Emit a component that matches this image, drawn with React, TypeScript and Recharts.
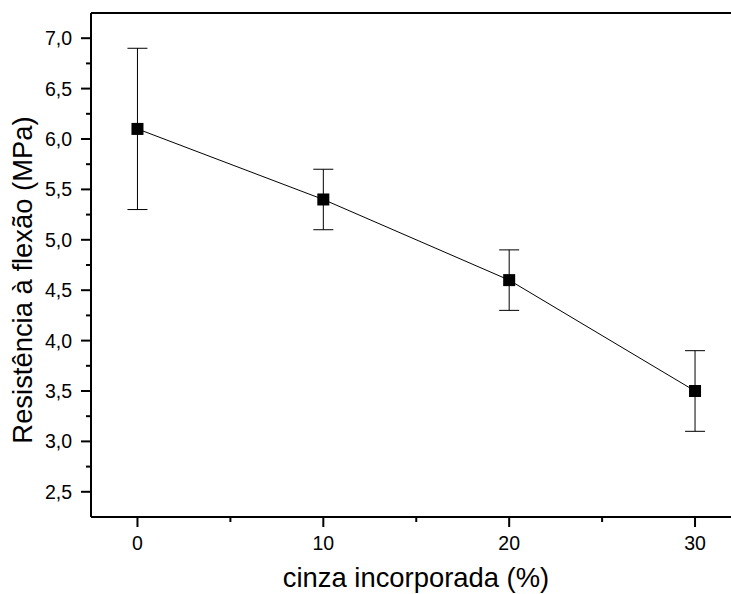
import React from "react";
import {
  LineChart,
  Line,
  XAxis,
  YAxis,
  ErrorBar,
  ReferenceLine,
  Label,
} from "recharts";

const cinza = [0, 10, 20, 30];
const resistencia = [6.1, 5.4, 4.6, 3.5];
const desvio = [0.8, 0.3, 0.3, 0.4];

const xTicks = [0, 5, 10, 15, 20, 25, 30];
const yTicks = [
  2.5, 2.75, 3.0, 3.25, 3.5, 3.75, 4.0, 4.25, 4.5, 4.75, 5.0, 5.25, 5.5, 5.75,
  6.0, 6.25, 6.5, 6.75, 7.0,
];

const FONT = "'Liberation Sans', Arial, sans-serif";

const data = cinza.map((c, i) => ({
  cinza: c,
  resistencia: resistencia[i],
  desvio: desvio[i],
}));

function XTick({ x, y, payload }: any) {
  const major = payload.value % 10 === 0;
  return (
    <g>
      <line x1={x} x2={x} y1={y} y2={y + (major ? 10 : 5)} stroke="#000" strokeWidth={2} />
      {major && (
        <text x={x} y={y + 33} textAnchor="middle" fontSize={19.5} fontFamily={FONT} fill="#000">
          {payload.value}
        </text>
      )}
    </g>
  );
}

function YTick({ x, y, payload }: any) {
  const v = payload.value;
  const major = Math.abs(v * 2 - Math.round(v * 2)) < 1e-6;
  return (
    <g>
      <line x1={x - (major ? 10 : 5)} x2={x} y1={y} y2={y} stroke="#000" strokeWidth={2} />
      {major && (
        <text x={x - 19} y={y + 7} textAnchor="end" fontSize={19.5} fontFamily={FONT} fill="#000">
          {v.toFixed(1).replace(".", ",")}
        </text>
      )}
    </g>
  );
}

function SquareDot({ cx, cy }: any) {
  if (cx == null || cy == null) return null;
  return <rect x={cx - 6} y={cy - 6} width={12} height={12} fill="#000" />;
}

export default function App() {
  return (
    <div
      style={{
        position: "absolute",
        left: 0,
        top: 0,
        width: 731,
        height: 594,
        overflow: "hidden",
        background: "#fff",
      }}
    >
      <LineChart
        width={810}
        height={594}
        data={data}
        margin={{ top: 13, right: 68.5, bottom: 0, left: 0 }}
      >
        <XAxis
          dataKey="cinza"
          type="number"
          domain={[-2.5, 32.5]}
          ticks={xTicks}
          height={77}
          tickLine={false}
          tickSize={0}
          tickMargin={0}
          axisLine={{ stroke: "#000", strokeWidth: 2 }}
          tick={<XTick />}
          interval={0}
        >
          <Label
            content={() => (
              <text x={416} y={587} textAnchor="middle" fontSize={27.4} fontFamily={FONT} fill="#000">
                cinza incorporada (%)
              </text>
            )}
          />
        </XAxis>
        <YAxis
          type="number"
          domain={[2.25, 7.25]}
          ticks={yTicks}
          width={91}
          tickLine={false}
          tickSize={0}
          tickMargin={0}
          axisLine={{ stroke: "#000", strokeWidth: 2 }}
          tick={<YTick />}
          interval={0}
        >
          <Label
            content={() => (
              <text
                x={0}
                y={0}
                transform="translate(32,280) rotate(-90)"
                textAnchor="middle"
                fontSize={27.4}
                fontFamily={FONT}
                fill="#000"
              >
                Resistência à flexão (MPa)
              </text>
            )}
          />
        </YAxis>
        <ReferenceLine y={7.25} stroke="#000" strokeWidth={2} />
        <Line
          dataKey="resistencia"
          type="linear"
          stroke="#000"
          strokeWidth={1}
          dot={<SquareDot />}
          activeDot={false}
          isAnimationActive={false}
        >
          <ErrorBar dataKey="desvio" direction="y" width={10} stroke="#000" strokeWidth={1} />
        </Line>
      </LineChart>
    </div>
  );
}
